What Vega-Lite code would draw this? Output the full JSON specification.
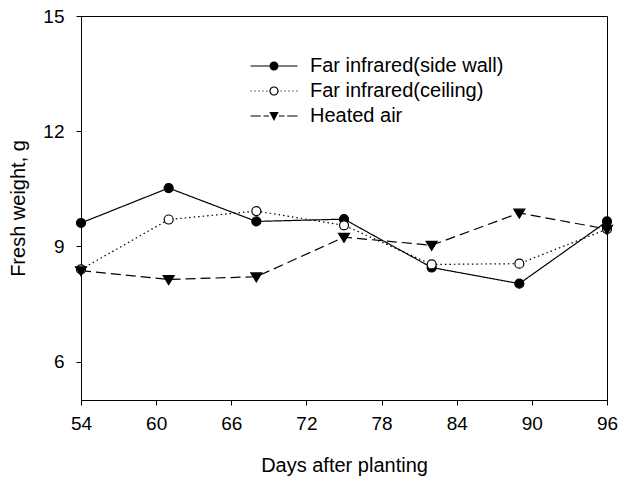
{
  "$schema": "https://vega.github.io/schema/vega-lite/v6.json",
  "width": 526,
  "height": 384,
  "autosize": "none",
  "padding": {"left": 81, "top": 16, "right": 15, "bottom": 79},
  "background": "white",
  "config": {
    "font": "Liberation Sans",
    "view": {"stroke": "black", "strokeWidth": 1},
    "axis": {"grid": false, "domainColor": "black", "tickColor": "black", "labelColor": "black", "titleColor": "black", "tickSize": 5, "labelFont": "Liberation Sans", "titleFont": "Liberation Sans", "titleFontWeight": "normal"}
  },
  "data": {
    "values": [
      {"day": 54, "series": "Far infrared(side wall)", "weight": 9.61},
      {"day": 61, "series": "Far infrared(side wall)", "weight": 10.52},
      {"day": 68, "series": "Far infrared(side wall)", "weight": 9.65},
      {"day": 75, "series": "Far infrared(side wall)", "weight": 9.71},
      {"day": 82, "series": "Far infrared(side wall)", "weight": 8.45},
      {"day": 89, "series": "Far infrared(side wall)", "weight": 8.03},
      {"day": 96, "series": "Far infrared(side wall)", "weight": 9.65},
      {"day": 54, "series": "Far infrared(ceiling)", "weight": 8.4},
      {"day": 61, "series": "Far infrared(ceiling)", "weight": 9.7},
      {"day": 68, "series": "Far infrared(ceiling)", "weight": 9.92},
      {"day": 75, "series": "Far infrared(ceiling)", "weight": 9.55},
      {"day": 82, "series": "Far infrared(ceiling)", "weight": 8.53},
      {"day": 89, "series": "Far infrared(ceiling)", "weight": 8.55},
      {"day": 96, "series": "Far infrared(ceiling)", "weight": 9.45},
      {"day": 54, "series": "Heated air", "weight": 8.37},
      {"day": 61, "series": "Heated air", "weight": 8.14},
      {"day": 68, "series": "Heated air", "weight": 8.21},
      {"day": 75, "series": "Heated air", "weight": 9.24},
      {"day": 82, "series": "Heated air", "weight": 9.03},
      {"day": 89, "series": "Heated air", "weight": 9.87},
      {"day": 96, "series": "Heated air", "weight": 9.45}
    ]
  },
  "encoding": {
    "x": {
      "field": "day", "type": "quantitative",
      "scale": {"domain": [54, 96], "nice": false, "zero": false},
      "axis": {"values": [54, 60, 66, 72, 78, 84, 90, 96], "title": "Days after planting", "labelFontSize": 19, "titleFontSize": 20, "labelPadding": 9, "titlePadding": 22, "labelFlush": false}
    },
    "y": {
      "field": "weight", "type": "quantitative",
      "scale": {"domain": [5, 15], "nice": false, "zero": false},
      "axis": {"values": [6, 9, 12, 15], "title": "Fresh weight, g", "labelFontSize": 19, "titleFontSize": 20, "labelPadding": 12, "titlePadding": 14, "labelFlush": false}
    }
  },
  "resolve": {"scale": {"shape": "independent"}},
  "layer": [
    {
      "mark": {"type": "line", "color": "black", "strokeWidth": 1.2},
      "encoding": {
        "detail": {"field": "series"},
        "strokeDash": {
          "field": "series", "type": "nominal",
          "scale": {"domain": ["Heated air", "Far infrared(side wall)", "Far infrared(ceiling)"], "range": [[10, 5], [1, 0], [1.5, 3]]},
          "legend": null
        }
      }
    },
    {
      "mark": {"type": "point", "stroke": "black", "strokeWidth": 1.2, "opacity": 1},
      "encoding": {
        "shape": {
          "field": "series", "type": "nominal",
          "scale": {"domain": ["Heated air", "Far infrared(ceiling)", "Far infrared(side wall)"], "range": ["M-1.22,-0.85L1.22,-0.85L0,1.15Z", "circle", "circle"]},
          "legend": null
        },
        "fill": {
          "field": "series", "type": "nominal",
          "scale": {"domain": ["Far infrared(ceiling)", "Far infrared(side wall)", "Heated air"], "range": ["white", "black", "black"]},
          "legend": null
        },
        "size": {"value": 81}
      }
    },
    {
      "mark": {"type": "point", "filled": true, "color": "black", "opacity": 0},
      "encoding": {
        "shape": {
          "field": "series", "type": "nominal",
          "scale": {
            "domain": ["Far infrared(side wall)", "Far infrared(ceiling)", "Heated air"],
            "range": [
              "M-2.14,-0.05H-0.38V0.05H-2.14ZM0.38,-0.05H2.14V0.05H0.38ZM0.41,0A0.41,0.41,0,1,1,-0.41,0A0.41,0.41,0,1,1,0.41,0Z",
              "M-2.14,-0.05h0.1v0.1h-0.1ZM-1.78,-0.05h0.1v0.1h-0.1ZM-1.42,-0.05h0.1v0.1h-0.1ZM-1.06,-0.05h0.1v0.1h-0.1ZM-0.7,-0.05h0.1v0.1h-0.1ZM0.6,-0.05h0.1v0.1h-0.1ZM0.96,-0.05h0.1v0.1h-0.1ZM1.32,-0.05h0.1v0.1h-0.1ZM1.68,-0.05h0.1v0.1h-0.1ZM2.04,-0.05h0.1v0.1h-0.1ZM0.42,0A0.42,0.42,0,1,1,-0.42,0A0.42,0.42,0,1,1,0.42,0ZM0.31,0A0.31,0.31,0,1,0,-0.31,0A0.31,0.31,0,1,0,0.31,0Z",
              "M-2.14,-0.05H-1.2V0.05H-2.14ZM-0.95,-0.05H-0.45V0.05H-0.95ZM0.45,-0.05H0.95V0.05H0.45ZM1.2,-0.05H2.14V0.05H1.2ZM-0.42,-0.36L0.42,-0.36L0,0.45Z"
            ]
          },
          "legend": {
            "title": null,
            "orient": "none",
            "legendX": 182,
            "legendY": 39,
            "padding": 0,
            "symbolSize": 484,
            "symbolOpacity": 1,
            "symbolFillColor": "black",
            "symbolStrokeColor": "black",
            "symbolStrokeWidth": 0,
            "labelFontSize": 20,
            "labelLimit": 400,
            "labelColor": "black",
            "labelOffset": 25,
            "rowPadding": 4
          }
        },
        "size": {"value": 484}
      }
    }
  ]
}
